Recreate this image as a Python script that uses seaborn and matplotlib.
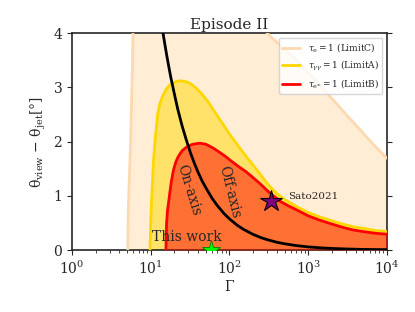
import numpy as np
import pandas as pd
import matplotlib
matplotlib.use("Agg")
import matplotlib.pyplot as plt
import seaborn as sns

# ---- data ----
gamma_C = [5.1, 5.15, 5.25, 5.4, 5.55, 5.7, 5.85, 5.95, 6.1, 8, 30, 100, 150, 200, 250, 300, 360,
           480, 712, 1000, 1400, 1891, 2700, 3700, 5000, 7000, 10000]
theta_C = [0.0, 0.5, 1.0, 1.5, 2.0, 2.7, 3.4, 4.0, 4.5, 6.0, 7.0, 6.0, 4.9, 4.55, 4.25, 4.0, 3.89,
           3.73, 3.5, 3.27, 3.04, 2.83, 2.58, 2.36, 2.15, 1.92, 1.69]

gamma_A = [9.8, 9.9, 10.0, 10.2, 10.4, 10.8, 11.3, 12.3, 13.1, 14.1, 15.5, 17, 19.4, 21.5, 23.5,
           27, 32, 38, 45, 53, 62, 75, 88, 101, 120, 145, 183, 230, 275, 326, 400, 500, 712,
           1000, 1400, 1891, 2700, 3700, 5000, 7000, 10000]
theta_A = [0.0, 0.3, 0.55, 0.85, 1.1, 1.6, 2.0, 2.52, 2.71, 2.83, 2.95, 3.03, 3.08, 3.11, 3.12,
           3.11, 3.07, 2.98, 2.87, 2.74, 2.59, 2.41, 2.26, 2.13, 1.98, 1.82, 1.63, 1.45, 1.30, 1.17,
           1.04, 0.93, 0.80, 0.69, 0.61, 0.55, 0.48, 0.43, 0.40, 0.36, 0.34]

gamma_B = [15.6, 15.7, 15.9, 16.3, 17.2, 18.2, 19.4, 20.8, 22.3, 25, 28.6, 34, 42, 50, 62, 75, 88,
           101, 130, 160, 183, 220, 250, 290, 326, 400, 450, 550, 712, 1000, 1400, 1891, 2700,
           3700, 5000, 7000, 10000]
theta_B = [0.0, 0.25, 0.5, 0.72, 0.98, 1.25, 1.47, 1.62, 1.72, 1.83, 1.90, 1.95, 1.97, 1.95, 1.88,
           1.80, 1.73, 1.66, 1.54, 1.45, 1.38, 1.28, 1.21, 1.12, 1.05, 0.95, 0.89, 0.82, 0.74, 0.63,
           0.55, 0.49, 0.42, 0.37, 0.34, 0.31, 0.29]

gamma_K = [14, 14.5, 15, 16, 17, 18, 20, 22, 25, 28, 32, 36, 40, 45, 50, 60, 70, 85, 100, 125, 150,
           200, 250, 300, 400, 500, 700, 1000, 1500, 2000, 3000, 5000, 10000]
theta_K = [4.09, 3.95, 3.82, 3.58, 3.37, 3.18, 2.87, 2.60, 2.29, 2.05, 1.79, 1.59, 1.43, 1.27, 1.15,
           0.955, 0.82, 0.674, 0.573, 0.458, 0.382, 0.287, 0.229, 0.191, 0.143, 0.115, 0.082, 0.057,
           0.038, 0.029, 0.019, 0.011, 0.006]

this_work = (58, 0.0)
sato2021 = (335, 0.90)

labels = [r"$\tau_{\rm e} = 1$ (LimitC)",
          r"$\tau_{\gamma\gamma} = 1$ (LimitA)",
          r"$\tau_{\rm e^{\pm}} = 1$ (LimitB)"]

# ---- style ----
sns.set_style("ticks")
plt.rcParams["font.family"] = ["DejaVu Serif"]
plt.rcParams["mathtext.fontset"] = "dejavuserif"

fig = plt.figure(figsize=(4.15, 3.12), dpi=100)
ax = fig.add_axes([0.1735, 0.1987, 0.759, 0.6953])

dfC = pd.DataFrame({"g": gamma_C, "t": theta_C})
dfA = pd.DataFrame({"g": gamma_A, "t": theta_A})
dfB = pd.DataFrame({"g": gamma_B, "t": theta_B})
dfK = pd.DataFrame({"g": gamma_K, "t": theta_K})

ax.fill_between(dfC["g"], 0, dfC["t"], color="navajowhite", alpha=0.5, lw=0, zorder=1)
ax.fill_between(dfA["g"], 0, dfA["t"], color="gold", alpha=0.5, lw=0, zorder=2)
ax.fill_between(dfB["g"], 0, dfB["t"], color="red", alpha=0.5, lw=0, zorder=3)

sns.lineplot(data=dfC, x="g", y="t", ax=ax, color="#fdd9b0", lw=2, estimator=None, label=labels[0], zorder=4)
sns.lineplot(data=dfA, x="g", y="t", ax=ax, color="gold", lw=2, estimator=None, label=labels[1], zorder=5)
sns.lineplot(data=dfB, x="g", y="t", ax=ax, color="red", lw=2, estimator=None, label=labels[2], zorder=6)
sns.lineplot(data=dfK, x="g", y="t", ax=ax, color="black", lw=2, estimator=None, zorder=7, legend=False)

ax.plot([this_work[0]], [this_work[1]], marker="*", ms=14, color="lime", mec="green", mew=0.6, zorder=8, ls="none")
ax.plot([sato2021[0]], [sato2021[1]], marker="*", ms=16, color="purple", mec="black", mew=0.8, zorder=8, ls="none")

ax.text(28.6, 0.245, "This work", fontsize=10, ha="center", va="center", zorder=9)
ax.text(551, 0.98, "Sato2021", fontsize=7.5, ha="left", va="center", zorder=9)
ax.text(30.6, 1.1, "On-axis", fontsize=10, rotation=-73, ha="center", va="center", zorder=9)
ax.text(101, 1.07, "Off-axis", fontsize=10, rotation=-76, ha="center", va="center", zorder=9)

ax.set_xscale("log")
ax.set_xlim(1, 1e4)
ax.set_ylim(0, 4)
ax.set_yticks([0, 1, 2, 3, 4])
ax.set_xlabel("Γ", fontsize=10, labelpad=2)
ax.set_ylabel("θ$_{\\rm view}$ − θ$_{\\rm jet}$[°]", fontsize=10)
ax.set_title("Episode II", fontsize=11, pad=3)
ax.tick_params(axis="both", which="both", direction="out", labelsize=10)
ax.tick_params(axis="y", right=True)
for s in ax.spines.values():
    s.set_linewidth(1.2)
    s.set_visible(True)

leg = ax.legend(loc="upper right", fontsize=6.5, frameon=True)
leg.get_frame().set_edgecolor("#cccccc")

fig.savefig("out.png", dpi=100)
